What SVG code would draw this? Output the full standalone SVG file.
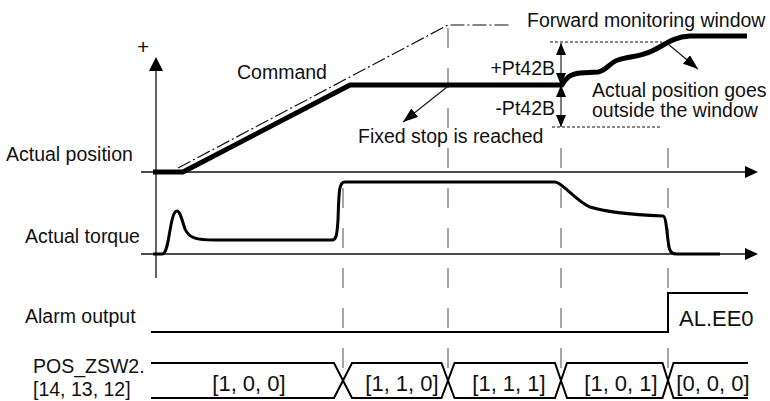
<svg xmlns="http://www.w3.org/2000/svg" width="770" height="401" viewBox="0 0 770 401">
<style>
  text { font-family: "Liberation Sans", Arial, sans-serif; fill: #111; }
  .lbl { font-size: 19.5px; }
  .big { font-size: 22px; }
  .axis { stroke: #111; stroke-width: 1.3; fill: none; }
  .grid { stroke: #777; stroke-width: 1.3; stroke-dasharray: 20 20; fill: none; }
  .pos { stroke: #000; stroke-width: 5; fill: none; stroke-linejoin: round; }
  .tq { stroke: #000; stroke-width: 3; fill: none; stroke-linejoin: round; }
  .sig { stroke: #000; stroke-width: 2; fill: none; }
  .cmd { stroke: #111; stroke-width: 1.2; stroke-dasharray: 14 3 2 3; fill: none; }
  .dot { stroke: #111; stroke-width: 1.2; stroke-dasharray: 3 2; fill: none; }
  .thin { stroke: #111; stroke-width: 1.1; fill: none; }
  .head { fill: #000; }
</style>
<defs>
  <marker id="ah" viewBox="0 0 12 10" refX="12" refY="5" markerWidth="12" markerHeight="10" markerUnits="userSpaceOnUse" orient="auto-start-reverse">
    <path d="M0,0 L12,5 L0,10 Z" fill="#000"/>
  </marker>
  <marker id="ap" viewBox="0 0 15 11" refX="15" refY="5.5" markerWidth="15" markerHeight="11" markerUnits="userSpaceOnUse" orient="auto">
    <path d="M0,0 L15,5.5 L0,11 Z" fill="#000"/>
  </marker>
</defs>

<g id="grid-lines">
  <line class="grid" x1="343" y1="188" x2="343" y2="368"/>
  <line class="grid" x1="448" y1="28" x2="448" y2="368"/>
  <line class="grid" x1="561" y1="148" x2="561" y2="368"/>
  <line class="grid" x1="668" y1="148" x2="668" y2="368"/>
</g>

<g id="axes">
  <line class="axis" x1="156" y1="278" x2="156" y2="68"/>
  <polygon class="head" points="156,57 149,71 163,71"/>
  <line class="axis" x1="141" y1="172" x2="747" y2="172"/>
  <polygon class="head" points="758,172 745,166 745,178"/>
  <line class="axis" x1="141" y1="254" x2="747" y2="254"/>
  <polygon class="head" points="758,254 745,248 745,260"/>
</g>

<g id="command">
  <path class="cmd" d="M178,168 L448,25 L510,25"/>
</g>

<g id="actual-position">
  <path class="pos" d="M153,172 L183,172 L350,85 L562,85 C566,78 570,74 580,73 L598,72 C606,71 609,63 618,60 C630,56 640,57 652,51 C665,45 672,37 690,36 L747,36"/>
</g>

<g id="window">
  <line class="dot" x1="550" y1="42" x2="662" y2="42"/>
  <line class="dot" x1="552" y1="127" x2="660" y2="127"/>
</g>

<g id="actual-torque">
  <path class="tq" d="M153,254 L162,254 C167,254 168,240 171,225 C173,214 175,211 177,211 C180,211 182,220 185,229 C189,238 196,240 215,240 L332,240 C336,240 337,236 338,220 C339,190 339,182 345,182 L555,182 C562,182 576,201 590,207 C605,212 640,215 663,216 C667,216 667,244 670,250 C671,253 673,254 677,254 L720,254"/>
</g>

<g id="alarm-output">
  <path class="sig" d="M151,332 H668 V293 H748"/>
</g>

<g id="pos-zsw2">
  <path class="sig" d="M151,363 H334 L352,398 H441.5 L454.5,363 H555 L567,398 H662.5 L673.5,363 H748"/>
  <path class="sig" d="M151,398 H334 L352,363 H441.5 L454.5,398 H555 L567,363 H662.5 L673.5,398 H748"/>
</g>

<g id="connectors">
  <line class="thin" x1="561" y1="43" x2="561" y2="85" marker-start="url(#ah)" marker-end="url(#ah)"/>
  <line class="thin" x1="561" y1="85" x2="561" y2="127" marker-start="url(#ah)" marker-end="url(#ah)"/>
  <line class="thin" x1="447" y1="87" x2="403" y2="122" marker-end="url(#ap)"/>
  <line class="thin" x1="668" y1="44" x2="698" y2="69" marker-end="url(#ap)"/>
</g>

<g id="labels">
  <text x="137" y="54" style="font-size:21px">+</text>
  <text class="lbl" x="237" y="79">Command</text>
  <text class="lbl" x="527" y="27">Forward monitoring window</text>
  <text class="lbl" x="555" y="75" text-anchor="end">+Pt42B</text>
  <text class="lbl" x="555" y="115" text-anchor="end">-Pt42B</text>
  <text class="lbl" x="592" y="97">Actual position goes</text>
  <text class="lbl" x="592" y="117">outside the window</text>
  <text class="lbl" x="358" y="143">Fixed stop is reached</text>
  <text class="lbl" x="6" y="161">Actual position</text>
  <text class="lbl" x="25" y="243">Actual torque</text>
  <text class="lbl" x="25" y="323">Alarm output</text>
  <text class="lbl" x="33" y="373">POS_ZSW2.</text>
  <text class="lbl" x="33" y="396">[14, 13, 12]</text>
  <text class="big" x="679" y="326">AL.EE0</text>
  <text class="big" x="249" y="391" text-anchor="middle">[1, 0, 0]</text>
  <text class="big" x="402" y="391" text-anchor="middle">[1, 1, 0]</text>
  <text class="big" x="509" y="391" text-anchor="middle">[1, 1, 1]</text>
  <text class="big" x="621" y="391" text-anchor="middle">[1, 0, 1]</text>
  <text class="big" x="713" y="391" text-anchor="middle">[0, 0, 0]</text>
</g>
</svg>
